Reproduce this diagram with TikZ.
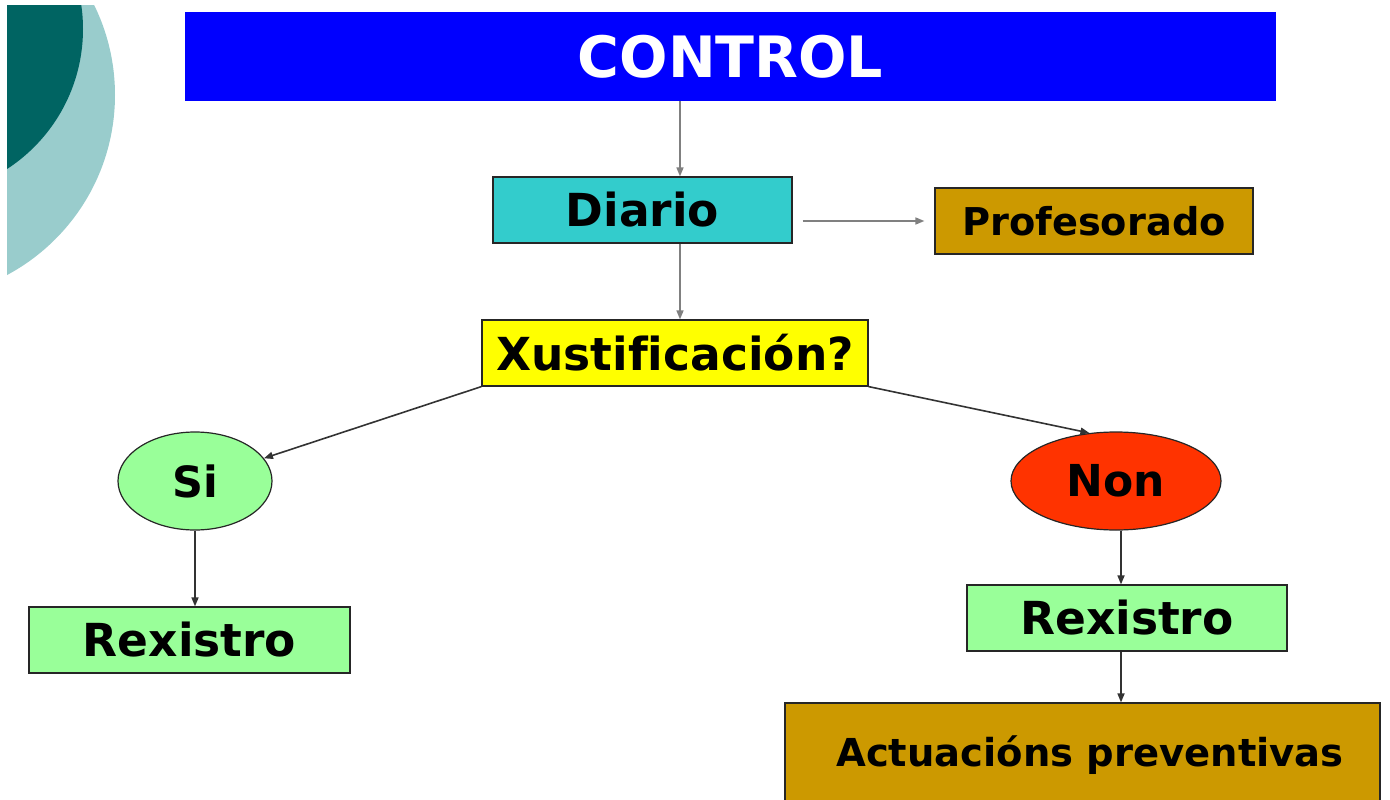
\documentclass[tikz,border=0pt]{standalone}
\usepackage{fontspec}
\setmainfont{DejaVu Sans}
\usetikzlibrary{arrows.meta,shapes.geometric}
\definecolor{cblue}{RGB}{0,0,255}
\definecolor{ccyan}{RGB}{51,204,204}
\definecolor{cgold}{RGB}{204,153,0}
\definecolor{cyel}{RGB}{255,255,0}
\definecolor{cgreen}{RGB}{153,255,153}
\definecolor{cred}{RGB}{255,51,0}
\definecolor{tealdark}{RGB}{0,100,98}
\definecolor{teallight}{RGB}{153,204,204}
\begin{document}
\begin{tikzpicture}[x=1pt,y=-1pt,
  boxstyle/.style={draw=black!85,line width=1.2pt,inner sep=0pt,font=\bfseries},
  ellstyle/.style={ellipse,draw=black!85,line width=1.2pt,inner sep=0pt,font=\bfseries},
  conn/.style={line width=1.6pt,-{Triangle[length=9pt,width=7pt]}},
]
\useasboundingbox (0,0) rectangle (1390,800);
% decoration
\begin{scope}
\clip (7,6) rectangle (400,400);
\fill[teallight] (-89,95) circle[radius=204];
\fill[tealdark] (-84,29) circle[radius=167];
\end{scope}
% nodes
\node[inner sep=0pt,fill=cblue,minimum width=1091pt,minimum height=89pt,text=white,font=\bfseries\fontsize{57}{60}\selectfont] (control) at (730.5,56.5) {CONTROL};
\node[boxstyle,fill=ccyan,minimum width=299pt,minimum height=66pt,font=\bfseries\fontsize{45.5}{50}\selectfont] (diario) at (642.5,210) {Diario};
\node[boxstyle,fill=cgold,minimum width=318pt,minimum height=66pt,font=\bfseries\fontsize{38.3}{42}\selectfont] (prof) at (1094,221) {Profesorado};
\node[boxstyle,fill=cyel,minimum width=386pt,minimum height=66pt,font=\bfseries\fontsize{45.5}{50}\selectfont\addfontfeature{Ligatures=NoCommon}] (xust) at (675,353) {Xustificación?};
\node[ellstyle,fill=cgreen,minimum width=154pt,minimum height=98pt,font=\bfseries\fontsize{43}{47}\selectfont] (si) at (195,481) {Si};
\node[ellstyle,fill=cred,minimum width=210pt,minimum height=98pt,font=\bfseries\fontsize{44}{48}\selectfont] (non) at (1116,481) {Non};
\node[boxstyle,fill=cgreen,minimum width=321pt,minimum height=66pt,font=\bfseries\fontsize{45.5}{50}\selectfont] (rexa) at (189.5,640) {Rexistro};
\node[boxstyle,fill=cgreen,minimum width=320pt,minimum height=66pt,font=\bfseries\fontsize{45.5}{50}\selectfont] (rexb) at (1127,618) {Rexistro};
\node[boxstyle,fill=cgold,minimum width=595pt,minimum height=114pt] (act) at (1082.5,760) {};
\node[inner sep=0pt,font=\bfseries\fontsize{38.5}{42}\selectfont] (acttext) at (1090,755) {Actuacións preventivas};
% connectors
\draw[conn,draw=gray] ([xshift=37.5pt]diario.north |- control.south) -- ([xshift=37.5pt]diario.north);
\draw[conn,draw=gray] ([xshift=37.5pt]diario.south) -- ([xshift=37.5pt]diario.south |- xust.north);
\draw[conn,draw=gray] ([xshift=10pt]diario.east |- prof.west) -- ([xshift=-10pt]prof.west);
\draw[conn,draw=black!80] (xust.south west) -- (si);
\draw[conn,draw=black!80] (xust.south east) -- (non.119);
\draw[conn,draw=black!80] (si.south) -- (si.south |- rexa.north);
\draw[conn,draw=black!80] ([xshift=5pt]non.south) -- ([xshift=5pt]non.south |- rexb.north);
\draw[conn,draw=black!80] ([xshift=-6pt]rexb.south) -- ([xshift=-6pt]rexb.south |- act.north);
\end{tikzpicture}
\end{document}
